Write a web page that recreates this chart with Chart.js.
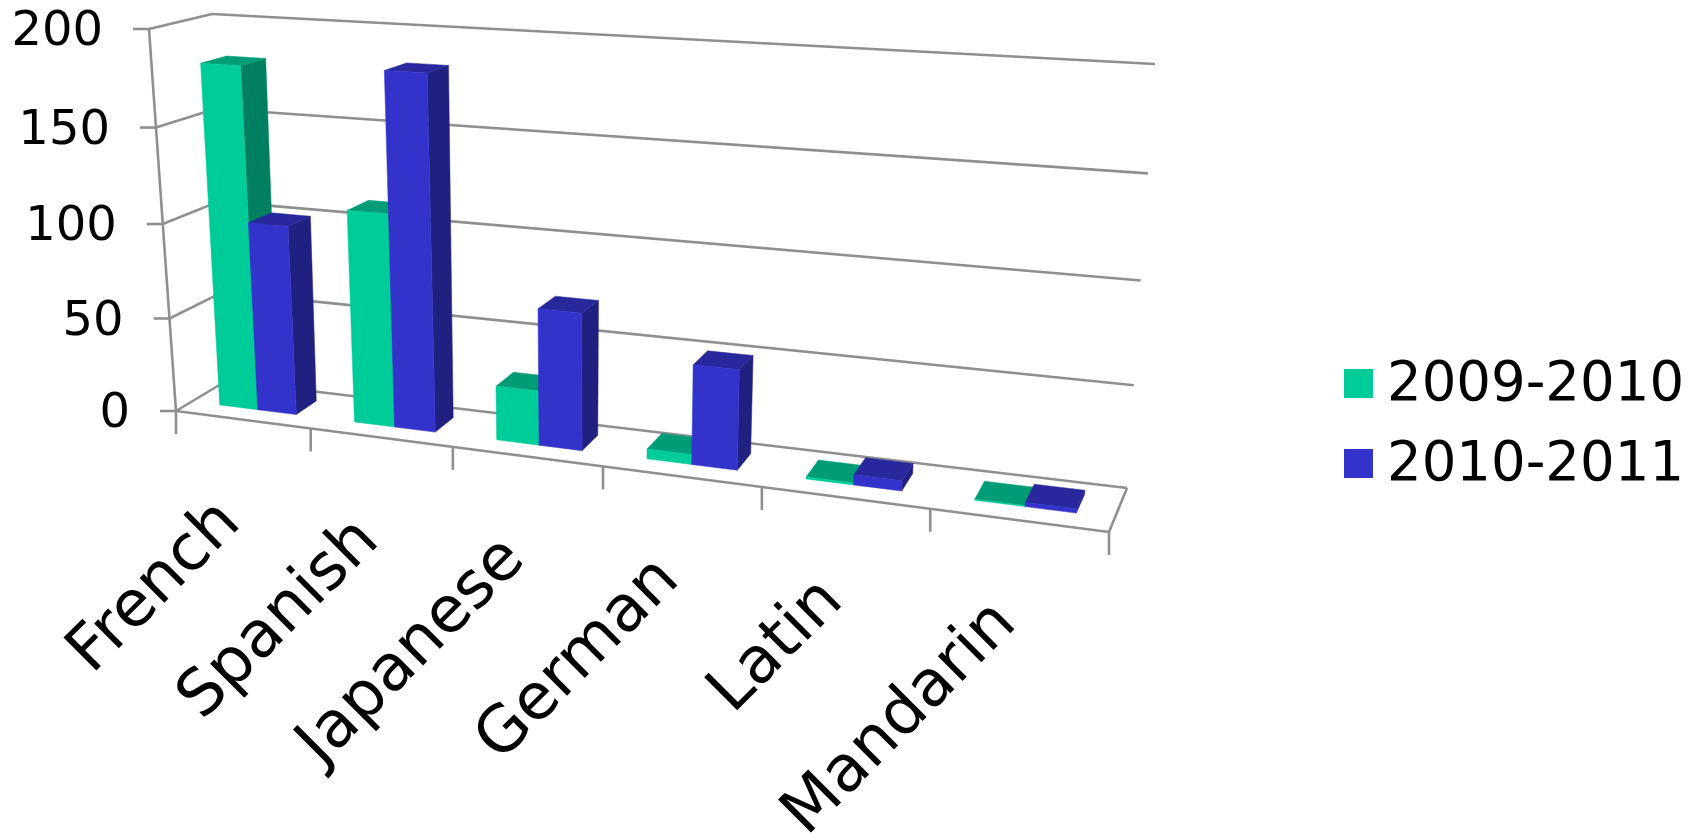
<!DOCTYPE html>
<html>
<head>
<meta charset="utf-8">
<title>Language enrolment</title>
<script src="https://cdn.jsdelivr.net/npm/chart.js@4"></script>
<style>
    html, body { margin: 0; padding: 0; background: #fff; }
    canvas { display: block; }
</style>
</head>
<body>
<canvas id="chart" width="1699" height="833"></canvas>
<script>
const languages = ['French', 'Spanish', 'Japanese', 'German', 'Latin', 'Mandarin'];
const seriesNames = ['2009-2010', '2010-2011'];
const values0910 = [181, 111, 28, 5, 1, 0.5];
const values1011 = [100, 183, 70, 50, 5, 2];
const yTicks = [0, 50, 100, 150, 200];

const faceColors = [
    { front: '#00CC99', top: '#009C75', side: '#008060' },
    { front: '#3333CC', top: '#28289C', side: '#202080' }
];
const gridColor = '#8f8f8f';
const fontName = '"DejaVu Sans", Verdana, sans-serif';

// corners of the 3d box on screen: z=0 is the front plane, z=1 the back wall
const box = {
    frontBottomLeft: [176, 411], frontBottomRight: [1109, 532],
    frontTopLeft: [149, 29], frontTopRight: [1140, 84],
    backBottomLeft: [226, 381], backBottomRight: [1127, 488],
    backTopLeft: [212, 14], backTopRight: [1155, 64]
};
const depthFrom = 0.32, depthTo = 0.75;

const warp = (t, k) => t / (t + k * (1 - t));
const mix = (a, b, t) => [a[0] + (b[0] - a[0]) * t, a[1] + (b[1] - a[1]) * t];

// maps a point of the flat chart area plus a depth to its place in the 3d view
function project(chart, px, py, z) {
    const area = chart.chartArea;
    const u = warp((px - area.left) / area.width, 1.185);
    const v = warp((area.bottom - py) / area.height, 1.043);
    const front = mix(mix(box.frontBottomLeft, box.frontBottomRight, u), mix(box.frontTopLeft, box.frontTopRight, u), v);
    const back = mix(mix(box.backBottomLeft, box.backBottomRight, u), mix(box.backTopLeft, box.backTopRight, u), v);
    return mix(front, back, z);
}

function line(ctx, a, b) {
    ctx.beginPath();
    ctx.moveTo(a[0], a[1]);
    ctx.lineTo(b[0], b[1]);
    ctx.stroke();
}

function quad(ctx, pts, color) {
    ctx.fillStyle = color;
    ctx.strokeStyle = color;
    ctx.lineWidth = 0.5;
    ctx.beginPath();
    pts.forEach((p, i) => i ? ctx.lineTo(p[0], p[1]) : ctx.moveTo(p[0], p[1]));
    ctx.closePath();
    ctx.fill();
    ctx.stroke();
}

const box3d = {
    id: 'box3d',
    beforeDatasetsDraw(chart) {
        const ctx = chart.ctx;
        const area = chart.chartArea;
        const xScale = chart.scales.x;
        const yScale = chart.scales.y;
        ctx.save();

        // walls and floor
        ctx.strokeStyle = gridColor;
        ctx.lineWidth = 2.6;
        yScale.ticks.forEach(t => {
            const y = yScale.getPixelForValue(t.value);
            const corner = project(chart, area.left, y, 0);
            const backLeft = project(chart, area.left, y, 1);
            line(ctx, [corner[0] - 16, corner[1]], corner);
            line(ctx, corner, backLeft);
            line(ctx, backLeft, project(chart, area.right, y, 1));
        });
        line(ctx, project(chart, area.left, area.top, 0), project(chart, area.left, area.bottom, 0));
        line(ctx, project(chart, area.left, area.bottom, 0), project(chart, area.right, area.bottom, 0));
        line(ctx, project(chart, area.right, area.bottom, 0), project(chart, area.right, area.bottom, 1));
        for (let i = 0; i <= languages.length; i++) {
            const p = project(chart, area.left + area.width * i / languages.length, area.bottom, 0);
            line(ctx, p, [p[0], p[1] + 23]);
        }

        // bars, left to right so nearer faces cover the earlier ones
        languages.forEach((name, j) => {
            chart.data.datasets.forEach((ds, i) => {
                const bar = chart.getDatasetMeta(i).data[j];
                const l = bar.x - bar.width / 2, r = bar.x + bar.width / 2;
                const c = faceColors[i];
                quad(ctx, [project(chart, r, bar.base, depthFrom), project(chart, r, bar.base, depthTo),
                    project(chart, r, bar.y, depthTo), project(chart, r, bar.y, depthFrom)], c.side);
                quad(ctx, [project(chart, l, bar.y, depthFrom), project(chart, r, bar.y, depthFrom),
                    project(chart, r, bar.y, depthTo), project(chart, l, bar.y, depthTo)], c.top);
                quad(ctx, [project(chart, l, bar.base, depthFrom), project(chart, r, bar.base, depthFrom),
                    project(chart, r, bar.y, depthFrom), project(chart, l, bar.y, depthFrom)], c.front);
            });
        });

        // tick labels
        ctx.fillStyle = '#000';
        ctx.font = '48px ' + fontName;
        ctx.textAlign = 'right';
        ctx.textBaseline = 'middle';
        yScale.ticks.forEach(t => {
            const p = project(chart, area.left, yScale.getPixelForValue(t.value), 0);
            ctx.fillText(String(t.value), p[0] - 46, p[1] + 4);
        });
        ctx.font = '64px ' + fontName;
        ctx.textBaseline = 'alphabetic';
        languages.forEach((name, j) => {
            const p = project(chart, xScale.getPixelForValue(j), area.bottom, 0);
            ctx.save();
            ctx.translate(p[0], p[1] + 105);
            ctx.rotate(-Math.PI / 4);
            ctx.fillText(name, 0, 0);
            ctx.restore();
        });

        // legend
        ctx.font = '54.5px ' + fontName;
        ctx.textAlign = 'left';
        ctx.textBaseline = 'middle';
        seriesNames.forEach((name, i) => {
            ctx.fillStyle = faceColors[i].front;
            ctx.fillRect(1344, 369 + i * 80, 29, 29);
            ctx.fillStyle = '#000';
            ctx.fillText(name, 1387, 386 + i * 80);
        });

        ctx.restore();
        return false; // the flat bars are replaced by the 3d ones
    }
};

new Chart(document.getElementById('chart'), {
    type: 'bar',
    data: {
        labels: languages,
        datasets: [
            { label: seriesNames[0], data: values0910, backgroundColor: faceColors[0].front },
            { label: seriesNames[1], data: values1011, backgroundColor: faceColors[1].front }
        ]
    },
    plugins: [box3d],
    options: {
        responsive: false,
        animation: false,
        devicePixelRatio: 1,
        layout: { padding: { left: 176, top: 29, right: 590, bottom: 422 } },
        datasets: { bar: { categoryPercentage: 0.575, barPercentage: 1 } },
        plugins: { legend: { display: false }, tooltip: { enabled: false } },
        scales: {
            x: { display: false },
            y: {
                display: false,
                min: yTicks[0],
                max: yTicks[yTicks.length - 1],
                afterBuildTicks: axis => { axis.ticks = yTicks.map(value => ({ value })); }
            }
        }
    }
});
</script>
</body>
</html>
